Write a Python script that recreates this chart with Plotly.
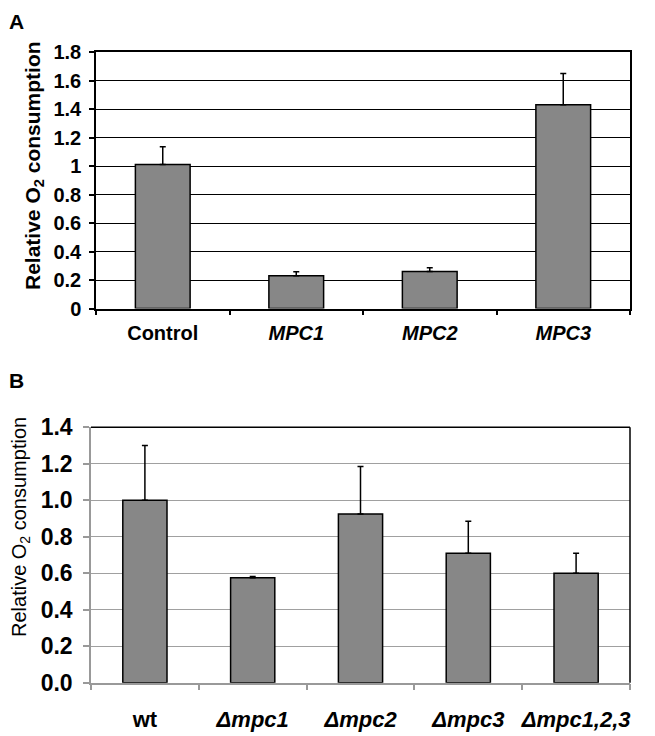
import plotly.graph_objects as go

# Panel A data
cats_a = ["Control", "MPC1", "MPC2", "MPC3"]
labels_a = ["<b>Control</b>", "<b><i>MPC1</i></b>", "<b><i>MPC2</i></b>", "<b><i>MPC3</i></b>"]
vals_a = [1.01, 0.23, 0.26, 1.43]
err_a = [0.125, 0.028, 0.027, 0.22]
yticks_a = [0, 0.2, 0.4, 0.6, 0.8, 1, 1.2, 1.4, 1.6, 1.8]
yticklabels_a = ["0", "0.2", "0.4", "0.6", "0.8", "1", "1.2", "1.4", "1.6", "1.8"]

# Panel B data
cats_b = ["wt", "dmpc1", "dmpc2", "dmpc3", "dmpc123"]
labels_b = ["<b>wt</b>", "<b><i>Δmpc1</i></b>", "<b><i>Δmpc2</i></b>",
            "<b><i>Δmpc3</i></b>", "<b><i>Δmpc1,2,3</i></b>"]
vals_b = [1.0, 0.575, 0.925, 0.71, 0.6]
err_b = [0.3, 0.007, 0.26, 0.175, 0.11]
yticks_b = [0, 0.2, 0.4, 0.6, 0.8, 1.0, 1.2, 1.4]
yticklabels_b = ["0.0", "0.2", "0.4", "0.6", "0.8", "1.0", "1.2", "1.4"]

FONT = "Liberation Sans, Arial, sans-serif"
BAR = "#878787"

# page offset (body margin) compensation
OFF = 8
W, H = 655 - OFF, 736 - OFF


def px(x):
    return (x - OFF) / W


def py(y):
    return 1 - (y - OFF) / H


fig = go.Figure()
fig.add_trace(go.Bar(
    x=cats_a, y=vals_a, width=0.41, xaxis="x", yaxis="y",
    marker=dict(color=BAR, line=dict(color="black", width=1.5)),
    error_y=dict(type="data", symmetric=False, array=err_a, arrayminus=[0] * len(err_a),
                 color="black", thickness=1.5, width=3),
    showlegend=False, hoverinfo="skip"))
fig.add_trace(go.Bar(
    x=cats_b, y=vals_b, width=0.41, xaxis="x2", yaxis="y2",
    marker=dict(color=BAR, line=dict(color="black", width=1.5)),
    error_y=dict(type="data", symmetric=False, array=err_b, arrayminus=[0] * len(err_b),
                 color="black", thickness=1.5, width=3),
    showlegend=False, hoverinfo="skip"))

fig.update_layout(
    width=W, height=H,
    margin=dict(l=0, r=0, t=0, b=0),
    paper_bgcolor="white", plot_bgcolor="white",
    font=dict(family=FONT, color="black"),
    showlegend=False,
    xaxis=dict(domain=[px(96), px(630)], anchor="y", automargin=False,
               tickmode="array", tickvals=cats_a, ticktext=labels_a, tickangle=0,
               tickson="boundaries", ticks="outside", ticklen=5, tickcolor="black", tickwidth=1.5,
               showline=True, linecolor="black", linewidth=1.5, mirror=True,
               tickfont=dict(size=20, family=FONT, color="black"), ticklabelstandoff=6,
               showgrid=False, fixedrange=True),
    yaxis=dict(domain=[py(308.6), py(52)], anchor="x", automargin=False,
               range=[0, 1.8], tickmode="array", tickvals=yticks_a, ticktext=yticklabels_a,
               ticks="outside", ticklen=5, tickcolor="black", tickwidth=1.5,
               showline=True, linecolor="black", linewidth=1.5, mirror=True,
               showgrid=True, gridcolor="black", gridwidth=1.4,
               tickfont=dict(size=20, family=FONT, color="black", weight="bold"),
               ticklabelstandoff=4, zeroline=False, fixedrange=True),
    xaxis2=dict(domain=[px(91), px(630)], anchor="y2", automargin=False,
                tickmode="array", tickvals=cats_b, ticktext=labels_b, tickangle=0,
                tickson="boundaries", ticks="outside", ticklen=6, tickcolor="#999999", tickwidth=1.5,
                showline=True, linecolor="#999999", linewidth=1.5,
                tickfont=dict(size=22, family=FONT, color="black"), ticklabelstandoff=16,
                showgrid=False, fixedrange=True),
    yaxis2=dict(domain=[py(682.7), py(427.3)], anchor="x2", automargin=False,
                range=[0, 1.4], tickmode="array", tickvals=yticks_b, ticktext=yticklabels_b,
                ticks="outside", ticklen=6, tickcolor="#999999", tickwidth=1.5,
                showline=True, linecolor="#999999", linewidth=1.5,
                showgrid=True, gridcolor="#a0a0a0", gridwidth=1.3,
                tickfont=dict(size=23, family=FONT, color="black", weight="bold"),
                ticklabelstandoff=6, zeroline=False, fixedrange=True),
    shapes=[
        dict(type="line", xref="x2 domain", yref="y2 domain", x0=0, x1=1, y0=1, y1=1,
             line=dict(color="black", width=1.5)),
        dict(type="line", xref="x2 domain", yref="y2 domain", x0=1, x1=1, y0=0, y1=1,
             line=dict(color="black", width=1.5)),
    ],
    annotations=[
        dict(text="<b>A</b>", x=px(16), y=py(21), xref="paper", yref="paper",
             xanchor="center", yanchor="middle",
             showarrow=False, font=dict(size=21, family=FONT, color="black")),
        dict(text="<b>B</b>", x=px(16), y=py(380), xref="paper", yref="paper",
             xanchor="center", yanchor="middle",
             showarrow=False, font=dict(size=21, family=FONT, color="black")),
        dict(text="<b>Relative O<sub>2</sub> consumption</b>", textangle=-90,
             x=px(34), y=py(166), xref="paper", yref="paper",
             xanchor="center", yanchor="middle",
             showarrow=False, font=dict(size=21, family=FONT, color="black")),
        dict(text="Relative O<sub>2</sub> consumption", textangle=-90,
             x=px(20), y=py(527), xref="paper", yref="paper",
             xanchor="center", yanchor="middle",
             showarrow=False, font=dict(size=20, family=FONT, color="black")),
    ],
)

fig.write_html("out.html")
